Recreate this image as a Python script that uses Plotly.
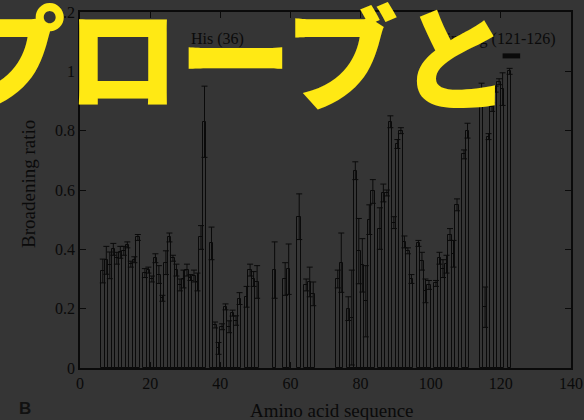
import plotly.graph_objects as go

# ---- data ----
residues = [7, 8, 9, 10, 11, 12, 13, 14, 15, 16, 17,
            19, 20, 21, 22, 23, 24, 25, 26, 27, 28, 29, 30, 31, 32, 33, 34, 35, 36,
            38, 39, 40, 41, 42, 43, 44, 45, 46,
            48, 49, 50, 51,
            56, 59, 60, 63, 65, 66, 67,
            74, 75, 77, 78, 79, 80, 81, 82, 83, 84,
            86, 87, 88, 89, 90, 91, 92, 93, 94, 95,
            97, 98, 99, 100,
            102, 103, 104, 105, 106, 107, 108,
            110, 111,
            115, 116, 117, 118, 119, 120, 121,
            123]

ratio = [0.327, 0.363, 0.346, 0.40, 0.37, 0.39, 0.395, 0.415, 0.35, 0.365, 0.44,
         0.32, 0.33, 0.30, 0.37, 0.315, 0.235, 0.355, 0.44, 0.37, 0.33, 0.28, 0.30, 0.33, 0.305, 0.31, 0.29, 0.44, 0.83,
         0.42, 0.145, 0.066, 0.139, 0.206, 0.139, 0.185, 0.16, 0.234,
         0.24, 0.33, 0.30, 0.29,
         0.33, 0.30, 0.333, 0.51, 0.28, 0.29, 0.25,
         0.30, 0.355, 0.20, 0.17, 0.665, 0.394, 0.346, 0.225, 0.50, 0.595,
         0.47, 0.59, 0.59, 0.83, 0.49, 0.755, 0.80, 0.425, 0.395, 0.30,
         0.42, 0.36, 0.26, 0.28,
         0.285, 0.37, 0.335, 0.35, 0.45, 0.385, 0.55,
         0.72, 0.80,
         0.94, 0.205, 0.78, 0.88, 0.94, 0.965, 0.94,
         1.00]

ratio_err = [0.04, 0.047, 0.045, 0.02, 0.02, 0.02, 0.015, 0.01, 0.01, 0.01, 0.01,
             0.015, 0.01, 0.01, 0.015, 0.03, 0.01, 0.04, 0.015, 0.01, 0.02, 0.02, 0.03, 0.02, 0.01, 0.02, 0.03, 0.04, 0.12,
             0.055, 0.01, 0.02, 0.01, 0.01, 0.02, 0.01, 0.016, 0.02,
             0.035, 0.02, 0.025, 0.055,
             0.095, 0.055, 0.085, 0.077, 0.02, 0.05, 0.04,
             0.03, 0.10, 0.04, 0.16, 0.03, 0.11, 0.09, 0.12, 0.05, 0.04,
             0.07, 0.03, 0.01, 0.02, 0.02, 0.015, 0.01, 0.02, 0.01, 0.015,
             0.01, 0.03, 0.04, 0.015,
             0.01, 0.02, 0.03, 0.03, 0.02, 0.045, 0.02,
             0.015, 0.025,
             0.02, 0.068, 0.01, 0.015, 0.01, 0.01, 0.055,
             0.01]

x_ticks = [0, 20, 40, 60, 80, 100, 120, 140]
y_ticks = [0, 0.2, 0.4, 0.6, 0.8, 1, 1.2]

site_labels = ["His (36)", "Binding (121-126)"]
site_ranges = [(36, 36), (121, 126)]
site_pads = [1.5, 0.0]

overlay_text = "プローブと"
panel_letter = "B"
x_title = "Amino acid sequence"
y_title = "Broadening ratio"

# ---- style ----
BG = "rgb(53,53,53)"
INK = "#0a0a0a"
SERIF = "Liberation Serif, Times New Roman, serif"

fig = go.Figure()
fig.add_trace(go.Bar(
    x=[r - 0.5 for r in residues], y=ratio, width=1.0,
    marker=dict(color="rgba(0,0,0,0)", line=dict(color=INK, width=1)),
    error_y=dict(type="data", array=ratio_err, visible=True,
                 color=INK, thickness=1, width=3),
    hoverinfo="skip",
))

# site markers (short thick bars) and their labels
for (lo, hi), pad in zip(site_ranges, site_pads):
    fig.add_shape(type="line", xref="x", yref="y",
                  x0=lo - 0.5 - pad, x1=hi - 0.5 + pad, y0=1.052, y1=1.052,
                  line=dict(color=INK, width=5))
fig.add_annotation(x=39.1, y=1.108, xref="x", yref="y", text=site_labels[0],
                   xanchor="center", yanchor="middle", showarrow=False,
                   font=dict(family=SERIF, size=16, color=INK))
fig.add_annotation(x=136.4, y=1.108, xref="x", yref="y", text=site_labels[1],
                   xanchor="right", yanchor="middle", showarrow=False,
                   font=dict(family=SERIF, size=16, color=INK))

# axis titles
fig.add_annotation(x=0.513, y=-0.118, xref="paper", yref="paper", text=x_title,
                   xanchor="center", yanchor="middle", showarrow=False,
                   font=dict(family=SERIF, size=19, color=INK))
fig.add_annotation(x=-0.104, y=0.517, xref="paper", yref="paper", text=y_title,
                   xanchor="center", yanchor="middle", textangle=-90, showarrow=False,
                   font=dict(family=SERIF, size=19, color=INK))

# panel letter
fig.add_annotation(x=-0.1283, y=-0.115, xref="paper", yref="paper", text=panel_letter,
                   xanchor="left", yanchor="middle", showarrow=False,
                   font=dict(family="Liberation Sans, Arial, sans-serif", size=17,
                             color="#111111", weight="bold"))

# big yellow overlay text
fig.add_annotation(x=-0.2620, y=0.889, xref="paper", yref="paper", text=overlay_text,
                   xanchor="left", yanchor="middle", showarrow=False,
                   font=dict(family="Noto Sans CJK JP", size=113, color="#FFE914",
                             weight=900))

axis_common = dict(showline=True, linecolor=INK, linewidth=1.5, mirror="ticks",
                   ticks="inside", ticklen=6, tickwidth=1, tickcolor=INK,
                   showgrid=False, zeroline=False, automargin=False,
                   tickfont=dict(family=SERIF, size=16, color=INK))
fig.update_xaxes(range=[0, 140], tickvals=x_ticks, **axis_common)
fig.update_yaxes(range=[0, 1.2], tickvals=y_ticks, **axis_common)

fig.update_layout(width=584, height=420,
                  margin=dict(l=80, r=13, t=12, b=52, autoexpand=False),
                  paper_bgcolor=BG, plot_bgcolor=BG,
                  showlegend=False, bargap=0)

fig.write_html("out.html",
               config={"displayModeBar": False},
               post_script="document.body.style.margin='0';"
                           "document.body.style.background='" + BG + "';")
